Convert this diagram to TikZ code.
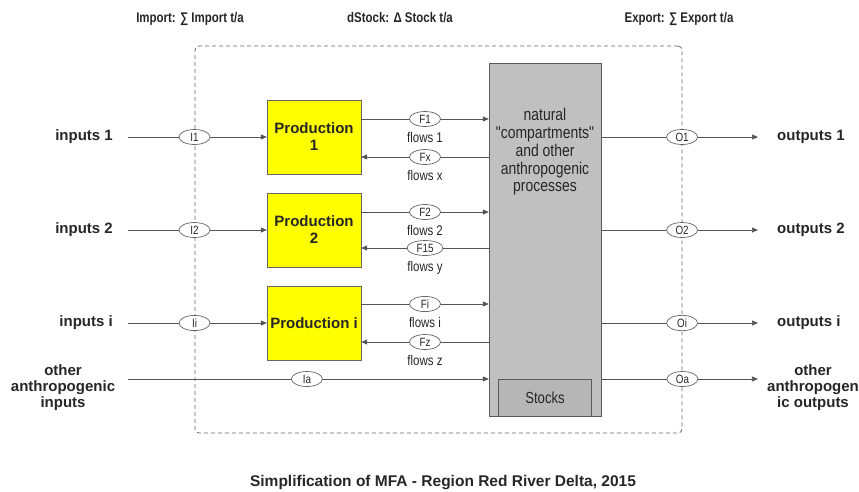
\documentclass[tikz,border=0pt]{standalone}
\usepackage{fontspec}
\setmainfont{Liberation Sans}
\newfontfamily\narrowfont{Liberation Sans}[FakeStretch=0.82, Ligatures=TeXOff]
\usepackage{xcolor}
\usetikzlibrary{arrows.meta,positioning,shapes.geometric}

\definecolor{lineg}{HTML}{555555}
\definecolor{boxg}{HTML}{C0C0C0}
\definecolor{prodyel}{HTML}{FFFF00}

\begin{document}
\begin{tikzpicture}[
  x=1pt, y=-1pt,
  >={Triangle[length=6pt,width=5pt]},
  every node/.style={text=black!85},
  lbl/.style={font=\fontsize{15}{16}\selectfont\bfseries, align=center, inner sep=0pt},
  head/.style={font=\narrowfont\fontsize{14}{16}\selectfont\bfseries, anchor=base, inner sep=0pt},
  sysframe/.style={draw=black!60, line width=0.8pt, dash pattern=on 4pt off 3pt, rounded corners=4pt,
                   minimum width=487pt, minimum height=387pt},
  prodbox/.style={draw=black!60, fill=prodyel, minimum width=94pt, minimum height=74pt,
                  align=center, inner sep=0pt, font=\fontsize{15}{17}\selectfont\bfseries},
  greybox/.style={draw=black!65, fill=boxg, minimum width=112pt, minimum height=353pt},
  stockbox/.style={draw=black!65, fill=boxg!95!black, minimum width=93pt, minimum height=37pt,
                   font=\narrowfont\fontsize{16}{18}\selectfont},
  tag/.style={ellipse, draw=black!60, fill=white, minimum width=31pt, minimum height=15pt,
              inner sep=1pt, font=\narrowfont\fontsize{12}{13}\selectfont},
  flowlbl/.style={font=\narrowfont\fontsize{14}{15}\selectfont, inner sep=0pt},
  arr/.style={->, draw=lineg, line width=0.7pt},
]
\useasboundingbox (0,0) rectangle (859,491);

% system boundary
\node[sysframe] (sys) at (438.5,239.5) {};

% balance terms (top)
\node[head] (imp) at (190,22) {Import: ∑ Import t/a};
\node[head] (dst) at (400,22) {dStock: Δ Stock t/a};
\node[head] (exp) at (679,22) {Export: ∑ Export t/a};

% production processes
\node[prodbox] (P1) at (314,137) {Production\\1};
\node[prodbox] (P2) at (314,230) {Production\\2};
\node[prodbox] (Pi) at (314,323) {Production i};

% natural compartments and stocks
\node[greybox] (G) at (545,239.5) {};
\node[font=\narrowfont\fontsize{17}{17.75}\selectfont, align=center] (Gtxt) at (545,152)
  {natural\\"compartments"\\and other\\anthropogenic\\processes};
\node[stockbox, anchor=south] (S) at (G.south) {Stocks};

% inputs (left)
\node[lbl, anchor=east] (in1) at (113,137) {inputs 1};
\node[lbl, anchor=east] (in2) at (113,230) {inputs 2};
\node[lbl, anchor=east] (ini) at (113,323) {inputs i};
\node[lbl] (inA) at (63,388) {other\\anthropogenic\\inputs};

\draw[arr, shorten <=15pt] (in1) -- node[tag, pos=0.53] (i1) {I1} (P1);
\draw[arr, shorten <=15pt] (in2) -- node[tag, pos=0.53] (i2) {I2} (P2);
\draw[arr, shorten <=15pt] (ini) -- node[tag, pos=0.53] (ii) {Ii} (Pi);
\draw[arr, shorten <=13pt] (inA.east |- 0,379) -- node[tag, pos=0.513] (ia) {Ia} (G.west |- 0,379);

% flows between production and compartments
\draw[arr] (P1.east |- 0,119) -- node[tag] (f1) {F1} (G.west |- 0,119);
\draw[arr, <-] (P1.east |- 0,157) -- node[tag] (fx) {Fx} (G.west |- 0,157);
\draw[arr] (P2.east |- 0,212) -- node[tag] (f2) {F2} (G.west |- 0,212);
\draw[arr, <-] (P2.east |- 0,248) -- node[tag, minimum width=36pt] (f15) {F15} (G.west |- 0,248);
\draw[arr] (Pi.east |- 0,304) -- node[tag] (fi) {Fi} (G.west |- 0,304);
\draw[arr, <-] (Pi.east |- 0,342) -- node[tag] (fz) {Fz} (G.west |- 0,342);

\node[flowlbl, below=5pt of f1] (fl1) {flows 1};
\node[flowlbl, below=5pt of fx] (flx) {flows x};
\node[flowlbl, below=5pt of f2] (fl2) {flows 2};
\node[flowlbl, below=5pt of f15] (fly) {flows y};
\node[flowlbl, below=5pt of fi] (fli) {flows i};
\node[flowlbl, below=5pt of fz] (flz) {flows z};

% outputs (right)
\node[lbl, anchor=west] (out1) at (777,137) {outputs 1};
\node[lbl, anchor=west] (out2) at (777,230) {outputs 2};
\node[lbl, anchor=west] (outi) at (777,323) {outputs i};
\node[lbl] (outA) at (813,388) {other\\anthropogen\\ic outputs};

\draw[arr, shorten >=19pt] (G.east |- out1) -- node[tag, pos=0.46] (o1) {O1} (out1);
\draw[arr, shorten >=19pt] (G.east |- out2) -- node[tag, pos=0.46] (o2) {O2} (out2);
\draw[arr, shorten >=19pt] (G.east |- outi) -- node[tag, pos=0.46] (oi) {Oi} (outi);
\draw[arr, shorten >=9pt] (G.east |- 0,379) -- node[tag, pos=0.49] (oa) {Oa} (outA.west |- 0,379);

% title
\node[font=\fontsize{15.5}{18}\selectfont\bfseries, anchor=base, inner sep=0pt] (title) at (443,486)
  {Simplification of MFA - Region Red River Delta, 2015};
\end{tikzpicture}
\end{document}
